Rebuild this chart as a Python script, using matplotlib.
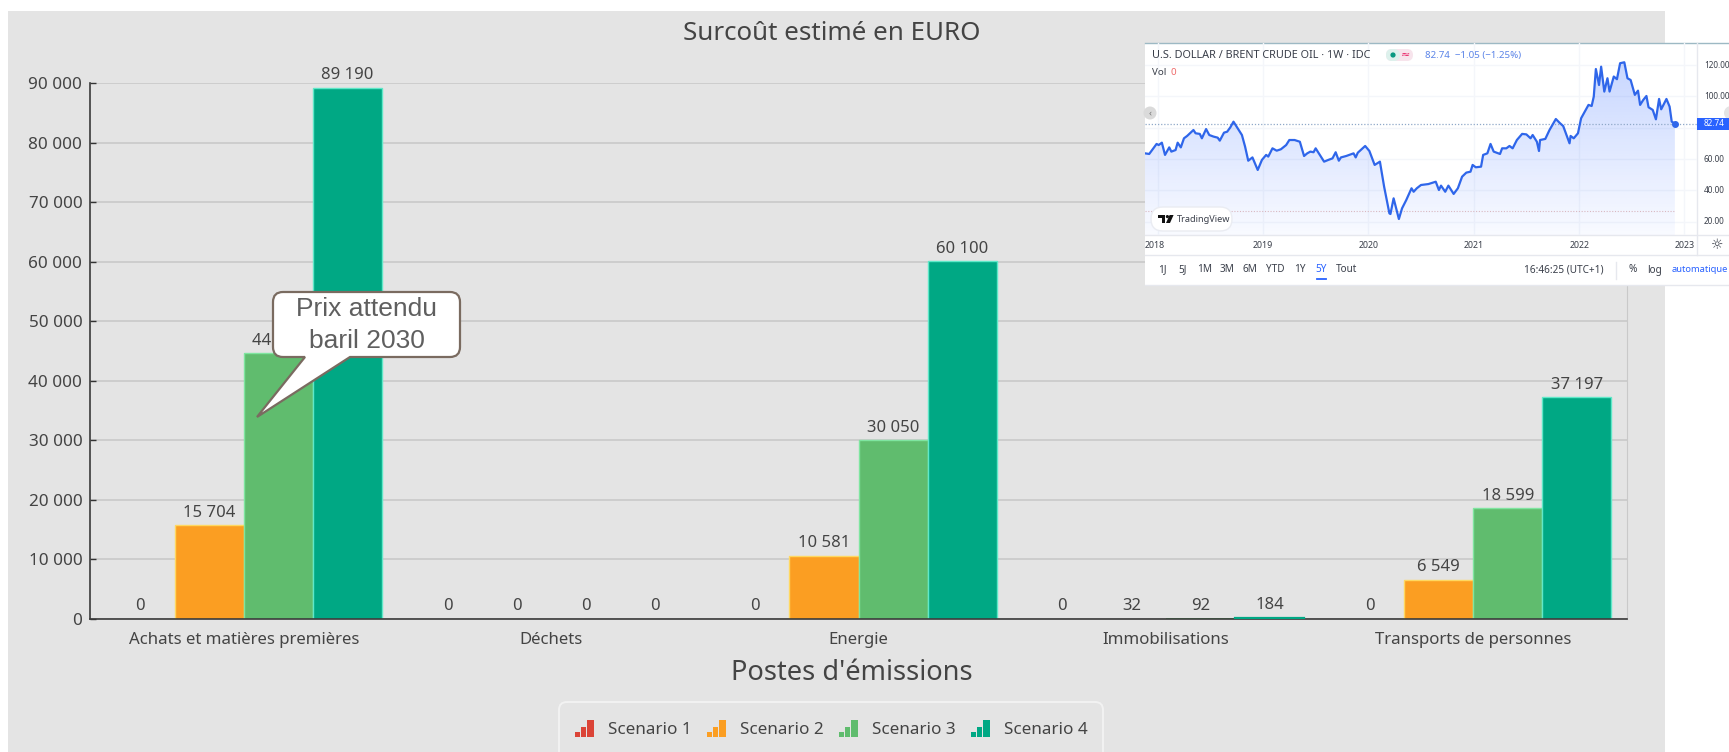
import numpy as np
import matplotlib
matplotlib.use("Agg")
import matplotlib.pyplot as plt
from matplotlib.patches import Rectangle, FancyBboxPatch, Polygon, Circle, PathPatch
from matplotlib.path import Path
from matplotlib.ticker import FuncFormatter

# ---- data ----
categories = ["Achats et matières premières", "Déchets", "Energie", "Immobilisations", "Transports de personnes"]
scenario_names = ["Scenario 1", "Scenario 2", "Scenario 3", "Scenario 4"]
scenario_1 = [0, 0, 0, 0, 0]
scenario_2 = [15704, 0, 10581, 32, 6549]
scenario_3 = [44595, 0, 30050, 92, 18599]
scenario_4 = [89190, 0, 60100, 184, 37197]
colors = ["#DB4437", "#FB9E22", "#60BC6E", "#00A884"]
edges = ["#F08070", "#FFD860", "#7FE5A0", "#5FE8C8"]

brent_year = [2017.88,2017.92,2017.96,2017.99,2018.01,2018.04,2018.07,2018.11,2018.13,2018.17,2018.19,2018.22,2018.25,2018.28,2018.34,2018.36,2018.40,2018.42,2018.46,2018.49,2018.53,2018.57,2018.59,2018.63,2018.66,2018.69,2018.72,2018.76,2018.80,2018.83,2018.86,2018.90,2018.95,2018.99,2019.03,2019.05,2019.09,2019.13,2019.17,2019.22,2019.25,2019.30,2019.35,2019.39,2019.42,2019.45,2019.48,2019.50,2019.53,2019.58,2019.62,2019.66,2019.69,2019.72,2019.74,2019.79,2019.86,2019.88,2019.90,2019.97,2020.01,2020.06,2020.11,2020.15,2020.20,2020.21,2020.24,2020.29,2020.32,2020.36,2020.41,2020.43,2020.46,2020.50,2020.57,2020.64,2020.67,2020.69,2020.73,2020.76,2020.81,2020.85,2020.89,2020.93,2020.97,2020.99,2021.02,2021.07,2021.09,2021.13,2021.16,2021.19,2021.25,2021.27,2021.31,2021.34,2021.37,2021.41,2021.46,2021.50,2021.54,2021.56,2021.60,2021.62,2021.63,2021.68,2021.72,2021.78,2021.82,2021.85,2021.91,2021.92,2021.95,2021.99,2022.02,2022.09,2022.12,2022.14,2022.16,2022.19,2022.21,2022.24,2022.27,2022.29,2022.33,2022.36,2022.39,2022.43,2022.46,2022.49,2022.53,2022.56,2022.58,2022.61,2022.64,2022.66,2022.70,2022.73,2022.76,2022.78,2022.83,2022.86,2022.88,2022.91]
brent_price = [63.6,63.2,66.8,69.6,68.9,70.4,62.6,67.4,64.7,65.7,70.4,67.4,73.2,74.7,78.5,76.4,76.0,73.2,79.1,75.3,74.3,73.6,71.7,76.8,77.4,80.2,83.8,79.6,75.3,67.9,58.9,61.0,53.0,59.4,62.6,61.5,66.8,65.3,66.2,68.9,72.1,72.1,71.0,61.9,63.6,64.7,64.3,66.8,63.6,58.3,59.4,60.4,64.3,58.9,61.0,61.9,63.6,61.0,64.0,68.3,65.1,56.2,58.3,42.3,25.3,24.9,34.9,21.7,28.5,33.8,41.3,39.1,41.3,43.4,44.0,45.5,40.2,43.0,39.1,43.0,37.7,41.3,48.7,51.3,51.9,56.2,54.7,55.1,62.6,63.6,69.6,64.7,63.2,66.8,66.8,68.3,66.8,72.1,76.0,75.7,73.2,75.3,71.0,65.1,72.1,72.8,78.5,85.5,82.8,81.0,70.0,74.7,73.2,76.4,86.0,94.5,93.8,99.8,117.4,107.2,118.9,103.0,111.5,103.0,112.6,110.9,121.1,121.7,111.5,110.4,100.9,103.6,94.5,97.7,100.2,93.0,91.3,85.3,98.3,91.7,98.3,93.4,83.8,82.6]
year_ticks = [2018, 2019, 2020, 2021, 2022, 2023]
price_ticks = [20, 40, 60, 80, 100, 120]
ranges = ["1J", "5J", "1M", "3M", "6M", "YTD", "1Y", "5Y", "Tout"]

plt.rcParams["font.family"] = ["Noto Sans", "DejaVu Sans"]
W, H = 1729, 752
fig = plt.figure(figsize=(W / 100, H / 100), dpi=100, facecolor="white")

def px_axes(x0, y0, x1, y1, z):
    return fig.add_axes([x0 / W, 1 - y1 / H, (x1 - x0) / W, (y1 - y0) / H], zorder=z)

def overlay(z):
    a = px_axes(0, 0, W, H, z)
    a.set_xlim(0, W); a.set_ylim(H, 0); a.axis("off"); a.patch.set_alpha(0)
    return a

TXT = "#444444"
# panel
bg = overlay(0)
bg.add_patch(Rectangle((8, 11), 1657, 741, fc="#E4E4E4", ec="none"))
bg.text(831.5, 34, "Surcoût estimé en EURO", ha="center", va="center", fontsize=18.7, color=TXT)
bg.text(852, 673, "Postes d'émissions", ha="center", va="center", fontsize=19.6, color=TXT)

# main bars
ax = px_axes(90, 83, 1627, 619, 1)
ax.patch.set_alpha(0)
x = np.arange(len(categories))
bw = 0.2245
for i, vals in enumerate([scenario_1, scenario_2, scenario_3, scenario_4]):
    pos = x + (i - 1.5) * bw
    bars = ax.bar(pos, vals, bw, color=colors[i], edgecolor=edges[i], linewidth=1, zorder=2)
    for p, v, patch in zip(pos, vals, bars):
        if v < 100:
            patch.set_edgecolor("none")
        elif v < 1000:
            patch.set_zorder(3)
            patch.set_edgecolor(colors[i])
            patch.set_linewidth(1.6)
        ax.annotate(f"{v:,}".replace(",", " "), (p, v), xytext=(0, 9), textcoords="offset points",
                    ha="center", va="center", fontsize=12, color=TXT, zorder=4, annotation_clip=False)
ax.set_xlim(-0.5, 4.5)
ax.set_ylim(0, 90000)
ax.set_yticks(np.arange(0, 90001, 10000))
ax.yaxis.set_major_formatter(FuncFormatter(lambda v, _: f"{int(v):,}".replace(",", " ")))
ax.set_xticks(x, categories)
ax.grid(axis="y", color="#C9C9C9", lw=1.2, zorder=0)
ax.set_axisbelow(True)
ax.tick_params(axis="x", length=0, pad=9.5, labelsize=12.1, labelcolor=TXT)
ax.tick_params(axis="y", direction="in", length=4, width=1, color="#333333", pad=5.5, labelsize=12.3, labelcolor=TXT)
for s in ["left", "bottom"]:
    ax.spines[s].set_color("#3A3A3A"); ax.spines[s].set_linewidth(1.2)
ax.spines["top"].set_visible(False)
ax.spines["right"].set_color("#C9C9C9")

# callout + legend + inset frame
ov = overlay(2)
l, t, r, b, rad = 273, 292, 460, 357, 10
verts = [(l + rad, t), (r - rad, t), (r, t), (r, t + rad), (r, b - rad), (r, b), (r - rad, b),
         (350, b), (257, 417), (305, b), (l + rad, b), (l, b), (l, b - rad), (l, t + rad), (l, t), (l + rad, t), (l + rad, t)]
codes = [Path.MOVETO, Path.LINETO, Path.CURVE3, Path.CURVE3, Path.LINETO, Path.CURVE3, Path.CURVE3,
         Path.LINETO, Path.LINETO, Path.LINETO, Path.LINETO, Path.CURVE3, Path.CURVE3, Path.LINETO, Path.CURVE3, Path.CURVE3, Path.CLOSEPOLY]
ov.add_patch(PathPatch(Path(verts, codes), fc="white", ec="#7A6B60", lw=1.6))
ov.text(366.5, 309, "Prix attendu", ha="center", va="center", family="Liberation Sans", fontsize=19, color="#5F5F5F")
ov.text(366.5, 341, "baril 2030", ha="center", va="center", family="Liberation Sans", fontsize=19, color="#5F5F5F")

ov.add_patch(FancyBboxPatch((559, 702), 544, 60, boxstyle="round,pad=0,rounding_size=8", fc="none", ec="#F2F2F2", lw=1.4, clip_on=True))
for ix, tx, name, c in zip([575, 707, 839, 971], [608, 740, 872, 1004], scenario_names, colors):
    for off, w, h in zip([0, 6, 12.3], [4.8, 5.3, 7], [5, 10, 17]):
        ov.add_patch(Rectangle((ix + off, 737 - h), w, h, fc=c, ec="none"))
    ov.text(tx, 730, name, ha="left", va="center", fontsize=12.3, color=TXT)

ov.add_patch(Rectangle((1145, 43), W - 1145, 243, fc="white", ec="none"))
ov.plot([1145, W], [43, 43], color="#9DB9C4", lw=1)
ov.plot([1145, W], [235, 235], color="#E6E8EE", lw=1)
ov.plot([1145, W], [255, 255], color="#E6E8EE", lw=1)
ov.plot([1145, W], [285, 285], color="#E6E8EE", lw=1)
ov.plot([1697, 1697], [43, 255], color="#E6E8EE", lw=1)

# price inset
pa = px_axes(1145, 43, 1697, 235, 3)
pa.patch.set_alpha(0)
pa.axis("off")
for yv in price_ticks:
    pa.axhline(yv, color="#F4F6FA", lw=1, zorder=0)
for xv in year_ticks:
    pa.axvline(xv, color="#F4F6FA", lw=1, zorder=0)
grad = np.zeros((256, 2, 4))
grad[..., :3] = np.array([41, 98, 255]) / 255
grad[..., 3] = np.linspace(0.26, 0.03, 256)[:, None]
im = pa.imshow(grad, extent=(2017.88, 2022.91, 11.5, 122), origin="upper", aspect="auto", zorder=1)
poly = Polygon(list(zip(brent_year, brent_price)) + [(2022.91, 11.5), (2017.88, 11.5)], closed=True,
               transform=pa.transData, fc="none", ec="none")
pa.add_patch(poly)
im.set_clip_path(poly)
pa.set_xlim(2017.88, 2023.12)
pa.set_ylim(11.5, 134)
pa.axhline(brent_price[-1], color="#8FA8C8", lw=0.9, ls=(0, (1, 1.5)), zorder=2)
pa.plot([2017.88, 2022.91], [27, 27], color="#D9B8C0", lw=0.8, ls=(0, (1, 1.5)), zorder=2)
pa.plot(brent_year, brent_price, color="#2F66EA", lw=1.6, zorder=3, solid_joinstyle="round")
pa.plot(brent_year[-1], brent_price[-1], "o", color="#2F66EA", ms=4, zorder=4)

# inset text
tv = overlay(4)
GR = "#3A3F4A"
f = dict(va="center", color=GR)
tv.text(1152, 55, "U.S. DOLLAR / BRENT CRUDE OIL · 1W · IDC", ha="left", fontsize=7.85, **f)
tv.add_patch(FancyBboxPatch((1386, 49), 27, 12, boxstyle="round,pad=0,rounding_size=6", fc="#F7E4EC", ec="none"))
tv.add_patch(FancyBboxPatch((1386, 49), 14, 12, boxstyle="round,pad=0,rounding_size=6", fc="#DDF1EC", ec="none"))
tv.add_patch(Circle((1393, 55), 2.6, fc="#089981", ec="none"))
tv.text(1406, 55, "≈", ha="center", va="center", fontsize=8, color="#E91E63", family="DejaVu Sans")
tv.text(1425, 55.5, "82.74  −1.05 (−1.25%)", ha="left", va="center", fontsize=7, color="#5B84E8")
tv.text(1152, 72.6, "Vol", ha="left", fontsize=7, **f)
tv.text(1171, 72.6, "0", ha="left", va="center", fontsize=7, color="#EF6A6A")
tv.add_patch(Circle((1150, 113), 6.5, fc="#DADADA", ec="none"))
tv.text(1150, 113, "‹", ha="center", va="center", fontsize=7, color="#777777")
tv.add_patch(Circle((1731, 113), 7, fc="#E4E4E4", ec="none"))

tv.add_patch(FancyBboxPatch((1151, 207), 81, 24, boxstyle="round,pad=0,rounding_size=12", fc="white", ec="#EAECF2", lw=1))
tv.add_patch(Polygon([(1158, 215), (1165, 215), (1165, 223), (1161.6, 223), (1161.6, 218), (1158, 218)], fc="#111111", ec="none"))
tv.add_patch(Circle((1167.4, 216.6), 1.6, fc="#111111", ec="none"))
tv.add_patch(Polygon([(1169.6, 215), (1173.6, 215), (1170, 223), (1166, 223)], fc="#111111", ec="none"))
tv.text(1177, 219, "TradingView", ha="left", fontsize=6.6, **f)

for yr, xp in zip(year_ticks, [1155, 1263, 1368.5, 1474, 1580, 1685]):
    tv.text(xp, 245, str(yr), ha="center", fontsize=6.4, **f)
for pv, yp in zip(price_ticks, [221.7, 190.5, 159, None, 96.5, 65]):
    if yp is not None:
        tv.text(1704, yp, f"{pv}.00", ha="left", fontsize=5.9, **f)
tv.add_patch(Rectangle((1697, 118), 32, 12, fc="#2962FF", ec="none"))
tv.text(1704, 124, "82.74", ha="left", va="center", fontsize=5.9, color="white")
tv.text(1717, 245, "☼", ha="center", va="center", fontsize=10, color=GR, family="DejaVu Sans")

for lab, xp in zip(ranges, [1162, 1183, 1205, 1227, 1250, 1275.5, 1300, 1321, 1347]):
    tv.text(xp, 270, lab, ha="center", va="center", fontsize=7.2, color="#2962FF" if lab == "5Y" else GR)
tv.plot([1317, 1326], [279, 279], color="#2962FF", lw=1.3)
tv.text(1564, 270, "16:46:25 (UTC+1)", ha="center", fontsize=7.2, **f)
tv.plot([1616, 1616], [262, 279], color="#E6E8EE", lw=1)
tv.text(1633, 270, "%", ha="center", fontsize=7.2, **f)
tv.text(1655, 270, "log", ha="center", fontsize=7.2, **f)
tv.text(1672, 270, "automatique", ha="left", va="center", fontsize=6.7, color="#2962FF")

fig.savefig("out.png", dpi=100)
